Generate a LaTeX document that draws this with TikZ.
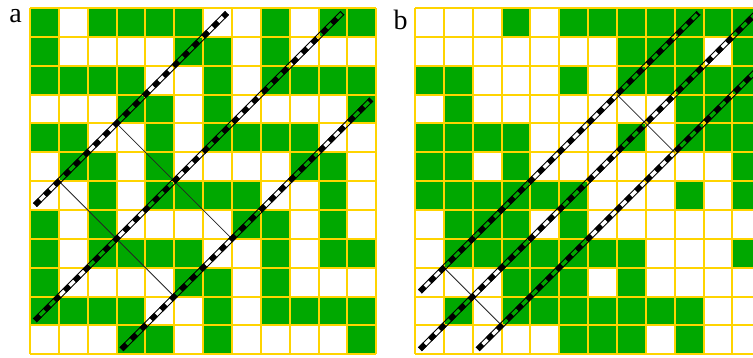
\documentclass[tikz,border=0pt]{standalone}
\usepackage{fontspec}
\setmainfont{Liberation Serif}
\usetikzlibrary{calc}
\definecolor{cellgreen}{RGB}{0,168,0}
\definecolor{gridyellow}{RGB}{255,212,0}
\tikzset{
  cellfill/.style={fill=cellgreen},
  gridline/.style={draw=gridyellow,line width=2pt},
  thinline/.style={draw=black!85,line width=0.8pt},
  railedge/.style={draw=black,line width=0.9pt},
  raildash/.style={draw=black,line width=5.4pt,dash pattern=on 7pt off 7pt},
  panellabel/.style={font=\fontsize{28}{30}\selectfont,inner sep=0pt,anchor=base}
}
\newcommand\railpath[2]{%
  \draw[railedge] ($(#1)!2.3pt!90:(#2)$) -- ($(#2)!2.3pt!-90:(#1)$);
  \draw[railedge] ($(#1)!2.3pt!-90:(#2)$) -- ($(#2)!2.3pt!90:(#1)$);
  \draw[raildash] (#1) -- (#2);
}
\begin{document}
\begin{tikzpicture}[x=1pt,y=-1pt]
\useasboundingbox (0,0) rectangle (753,357);
\fill[white] (0,0) rectangle (753,357);
\clip (0,0) rectangle (753,357);
\node[panellabel] (labela) at (15.5,22) {a};
\node[panellabel] (labelb) at (400.5,29) {b};
% ---------- left grid ----------
\begin{scope}[shift={(30pt,-8pt)},x=28.85pt,y=-28.85pt]
  \foreach \rowlist [count=\r] in {
    {1,0,1,1,1,1,0,0,1,0,1,1},
    {1,0,0,0,0,1,1,0,1,0,0,0},
    {1,1,1,1,0,0,1,0,1,1,1,1},
    {0,0,0,1,1,0,1,0,0,0,0,1},
    {1,1,0,0,1,0,1,1,1,1,0,0},
    {0,1,1,0,1,0,0,0,0,1,1,0},
    {0,0,1,0,1,1,1,1,0,0,1,0},
    {1,0,1,0,0,0,0,1,1,0,1,0},
    {1,0,1,1,1,1,0,0,1,0,1,1},
    {1,0,0,0,0,1,1,0,1,0,0,0},
    {1,1,1,1,0,0,1,0,1,1,1,1},
    {0,0,0,1,1,0,1,0,0,0,0,1}}{
    \foreach \v [count=\c] in \rowlist {
      \ifnum\v=1 \fill[cellfill] (\c-1,\r-1) rectangle (\c,\r);\fi
    }
  }
  \foreach \k in {0,...,12}{
    \draw[gridline] (\k,0) -- (\k,12);
    \draw[gridline] (0,\k) -- (12,\k);
  }
  \coordinate (la1) at (0.17,6.83);  \coordinate (la2) at (6.83,0.17);
  \coordinate (lb1) at (0.17,10.83); \coordinate (lb2) at (10.83,0.17);
  \coordinate (lc1) at (3.17,11.83); \coordinate (lc2) at (11.83,3.17);
  \coordinate (lt1) at (3,4); \coordinate (lt2) at (7,8);
  \coordinate (lu1) at (1,6); \coordinate (lu2) at (5,10);
  \draw[thinline] (lt1) -- (lt2);
  \draw[thinline] (lu1) -- (lu2);
  \railpath{la1}{la2}
  \railpath{lb1}{lb2}
  \railpath{lc1}{lc2}
\end{scope}
% ---------- right grid ----------
\begin{scope}[shift={(415pt,-8pt)},x=28.85pt,y=-28.85pt]
  \foreach \rowlist [count=\r] in {
    {0,0,0,1,0,1,1,1,1,1,1,1},
    {0,0,0,0,0,0,0,1,1,1,0,1},
    {1,1,0,0,0,1,0,1,1,1,1,1},
    {0,1,0,0,0,0,0,0,0,1,1,1},
    {1,1,1,1,0,0,0,1,0,1,1,1},
    {1,1,0,1,0,0,0,0,0,0,0,1},
    {1,1,1,1,1,1,0,0,0,1,0,1},
    {0,1,1,1,0,1,0,0,0,0,0,0},
    {0,1,1,1,1,1,1,1,0,0,0,1},
    {0,0,0,1,1,1,0,1,0,0,0,0},
    {0,1,0,1,1,1,1,1,1,1,0,0},
    {0,0,0,0,0,1,1,1,0,1,0,0}}{
    \foreach \v [count=\c] in \rowlist {
      \ifnum\v=1 \fill[cellfill] (\c-1,\r-1) rectangle (\c,\r);\fi
    }
  }
  \foreach \k in {0,...,12}{
    \draw[gridline] (\k,0) -- (\k,12);
    \draw[gridline] (0,\k) -- (12,\k);
  }
  \coordinate (rd1) at (0.17,9.83);  \coordinate (rd2) at (9.83,0.17);
  \coordinate (re1) at (0.17,11.83); \coordinate (re2) at (11.83,0.17);
  \coordinate (rf1) at (2.17,11.83); \coordinate (rf2) at (11.83,2.17);
  \coordinate (rt1) at (1,9); \coordinate (rt2) at (3,11);
  \coordinate (ru1) at (7,3); \coordinate (ru2) at (9,5);
  \draw[thinline] (rt1) -- (rt2);
  \draw[thinline] (ru1) -- (ru2);
  \railpath{rd1}{rd2}
  \railpath{re1}{re2}
  \railpath{rf1}{rf2}
\end{scope}
\end{tikzpicture}
\end{document}
